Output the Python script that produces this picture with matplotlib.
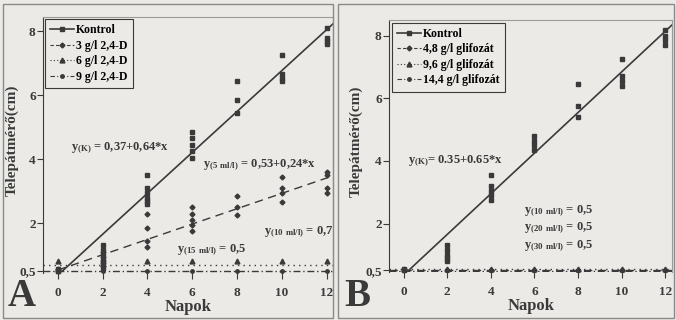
import matplotlib.pyplot as plt
import numpy as np
from matplotlib.patches import Rectangle

plt.rcParams['font.family'] = ['Liberation Serif', 'DejaVu Serif']
plt.rcParams['font.weight'] = 'bold'
plt.rcParams['mathtext.fontset'] = 'custom'
plt.rcParams['mathtext.rm'] = 'Liberation Serif:bold'
plt.rcParams['mathtext.default'] = 'rm'

days = [0, 2, 4, 6, 8, 10, 12]

# panel A - replicate values per day
kontrol_a = [[0.5, 0.55, 0.5], [1.3, 1.15, 1.0, 0.85, 0.7, 0.6],
             [3.5, 3.1, 2.95, 2.8, 2.7, 2.6], [4.85, 4.65, 4.45, 4.25, 4.05],
             [6.45, 5.85, 5.45], [7.25, 6.65, 6.55, 6.45], [8.1, 7.8, 7.7, 7.6]]
d3_a = [[0.5, 0.55], [1.1, 0.95, 0.8, 0.65], [2.3, 1.85, 1.45, 1.25],
        [2.5, 2.3, 2.1, 1.95, 1.75], [2.85, 2.5, 2.25],
        [3.45, 3.1, 2.95, 2.65], [3.6, 3.5, 3.1, 2.95]]
d6_a = [0.8, 0.8, 0.8, 0.8, 0.8, 0.8, 0.8]
d9_a = [0.5, 0.5, 0.5, 0.5, 0.5, 0.5, 0.5]

# panel B
kontrol_b = [[0.5, 0.55], [1.3, 1.15, 1.0, 0.9, 0.8],
             [3.55, 3.2, 3.05, 2.9, 2.75], [4.8, 4.65, 4.5, 4.35],
             [6.45, 5.75, 5.4], [7.25, 6.7, 6.55, 6.4], [8.2, 8.0, 7.85, 7.7]]
g48_b = [0.5, 0.5, 0.5, 0.5, 0.5, 0.5, 0.5]
g96_b = [0.55, 0.55, 0.55, 0.55, 0.55, 0.55, 0.55]
g144_b = [0.5, 0.5, 0.5, 0.5, 0.5, 0.5, 0.5]

fit_a = {'k': (0.37, 0.64), 'd3': (0.53, 0.24), 'd6': 0.7, 'd9': 0.5}
fit_b = {'k': (0.35, 0.65), 'flat': 0.5}

labels_a = ['Kontrol', '3 g/l 2,4-D', '6 g/l 2,4-D', '9 g/l 2,4-D']
labels_b = ['Kontrol', '4,8 g/l glifozát', '9,6 g/l glifozát', '14,4 g/l glifozát']

bg = '#ebeae7'
ink = '#3a3a3a'

fig = plt.figure(figsize=(6.76, 3.2), dpi=100, facecolor=bg)

def scatter_groups(ax, groups, marker, ms):
    for d, vals in zip(days, groups):
        ax.plot([d] * len(vals), vals, linestyle='', marker=marker, ms=ms,
                color=ink, clip_on=False, zorder=3)

def style_axes(ax, top, labx):
    ax.set_facecolor(bg)
    ax.set_xlim(-0.65, 12.3)
    ax.set_ylim(0.45, top)
    ax.set_xticks(days)
    ax.set_yticks([0.5, 2, 4, 6, 8])
    ax.set_yticklabels(['0,5', '2', '4', '6', '8'])
    ax.tick_params(labelsize=9.5, length=4, width=0.8, colors=ink, pad=1.5)
    ax.tick_params(axis='x', pad=6)
    for lab in ax.get_xticklabels() + ax.get_yticklabels():
        lab.set_fontweight('bold')
    ax.spines['bottom'].set_visible(False)
    ax.spines['left'].set_color(ink)
    ax.spines['top'].set_color('#9a9a9a')
    ax.spines['right'].set_color('#9a9a9a')
    ax.set_xlabel('Napok', fontsize=12, fontweight='bold', labelpad=0, color=ink)
    ax.set_ylabel('Telepátmérő(cm)', fontsize=11, fontweight='bold', color=ink)
    ax.yaxis.set_label_coords(labx, 0.52)

def legend_handles(ax):
    return [ax.plot([], [], color=ink, lw=1.2, marker='s', ms=3)[0],
            ax.plot([], [], color=ink, lw=0.8, ls=(0, (3, 2)), marker='D', ms=2.5)[0],
            ax.plot([], [], color=ink, lw=0.8, ls=(0, (1, 2)), marker='^', ms=3.5)[0],
            ax.plot([], [], color=ink, lw=0.8, ls=(0, (4, 2, 1, 2)), marker='o', ms=2.5)[0]]

xs = np.array([-0.65, 12.3])

# ---- panel A
ax = fig.add_axes([0.064, 0.148, 0.429, 0.798])
style_axes(ax, 8.44, -0.085)
a0, a1 = fit_a['k']
x0 = (0.5 - a0) / a1
ax.plot([x0, 12.3], [a0 + a1 * x0, a0 + a1 * 12.3], color=ink, lw=1.2)
b0, b1 = fit_a['d3']
ax.plot([0, 12.3], [b0, b0 + b1 * 12.3], color=ink, lw=1.0, ls=(0, (6, 4)))
ax.plot(xs, [fit_a['d6']] * 2, color=ink, lw=1.0, ls=(0, (1, 3)))
ax.plot(xs, [fit_a['d9']] * 2, color=ink, lw=1.0, ls=(0, (5, 2, 1, 2)))
scatter_groups(ax, kontrol_a, 's', 3)
scatter_groups(ax, d3_a, 'D', 2.5)
ax.plot(days, d6_a, ls='', marker='^', ms=3.5, color=ink, clip_on=False)
ax.plot(days, d9_a, ls='', marker='o', ms=2.5, color=ink, clip_on=False)
leg = ax.legend(legend_handles(ax), labels_a, loc='upper left', bbox_to_anchor=(0.0, 1.0),
                fontsize=8.5, handlelength=2.0, handletextpad=0.2,
                labelspacing=0.3, borderpad=0.45, fancybox=False,
                framealpha=1, facecolor=bg, edgecolor=ink, borderaxespad=0.15)
leg.get_frame().set_linewidth(0.8)
ax.text(0.6, 4.35, r'$y_{(K)}$ = 0,37+0,64*x', fontsize=9, va='center', color=ink)
ax.text(6.5, 3.8, r'$y_{(5\ ml/l)}$ = 0,53+0,24*x', fontsize=9, va='center', color=ink)
ax.text(9.2, 1.7, r'$y_{(10\ ml/l)}$ = 0,7', fontsize=9, va='center', color=ink)
ax.text(5.3, 1.16, r'$y_{(15\ ml/l)}$ = 0,5', fontsize=9, va='center', color=ink)

# ---- panel B
ax = fig.add_axes([0.576, 0.15, 0.418, 0.787])
style_axes(ax, 8.5, -0.095)
a0, a1 = fit_b['k']
x0 = (0.5 - a0) / a1
ax.plot([x0, 12.3], [a0 + a1 * x0, a0 + a1 * 12.3], color=ink, lw=1.2)
ax.plot(xs, [fit_b['flat']] * 2, color=ink, lw=1.0, ls=(0, (6, 4)))
ax.plot(xs, [fit_b['flat'] + 0.03] * 2, color=ink, lw=1.0, ls=(0, (1, 3)))
ax.plot(xs, [fit_b['flat'] - 0.02] * 2, color=ink, lw=1.0, ls=(0, (5, 2, 1, 2)))
scatter_groups(ax, kontrol_b, 's', 3)
ax.plot(days, g48_b, ls='', marker='D', ms=2.5, color=ink, clip_on=False)
ax.plot(days, g96_b, ls='', marker='^', ms=3.5, color=ink, clip_on=False)
ax.plot(days, g144_b, ls='', marker='o', ms=2.5, color=ink, clip_on=False)
leg = ax.legend(legend_handles(ax), labels_b, loc='upper left', bbox_to_anchor=(0.0, 1.0),
                fontsize=8.5, handlelength=2.0, handletextpad=0.2,
                labelspacing=0.3, borderpad=0.45, fancybox=False,
                framealpha=1, facecolor=bg, edgecolor=ink, borderaxespad=0.2)
leg.get_frame().set_linewidth(0.8)
ax.text(0.2, 4.0, r'$y_{(K)}$= 0.35+0.65*x', fontsize=9, va='center', color=ink)
ax.text(5.5, 2.4, r'$y_{(10\ ml/l)}$ = 0,5', fontsize=9, va='center', color=ink)
ax.text(5.5, 1.83, r'$y_{(20\ ml/l)}$ = 0,5', fontsize=9, va='center', color=ink)
ax.text(5.5, 1.27, r'$y_{(30\ ml/l)}$ = 0,5', fontsize=9, va='center', color=ink)

# panel frames and letters
fig.patches.append(Rectangle((3 / 676, 2 / 320), 330 / 676, 314 / 320,
                             transform=fig.transFigure, fill=False,
                             edgecolor='#8a8a8a', lw=1.0))
fig.patches.append(Rectangle((338 / 676, 2 / 320), 336 / 676, 314 / 320,
                             transform=fig.transFigure, fill=False,
                             edgecolor='#8a8a8a', lw=1.0))
fig.text(8 / 676, 1 - 315 / 320, 'A', fontsize=28, color=ink, va='bottom')
fig.text(344 / 676, 1 - 315 / 320, 'B', fontsize=28, color=ink, va='bottom')

fig.savefig('out.png', dpi=100, facecolor=bg)
